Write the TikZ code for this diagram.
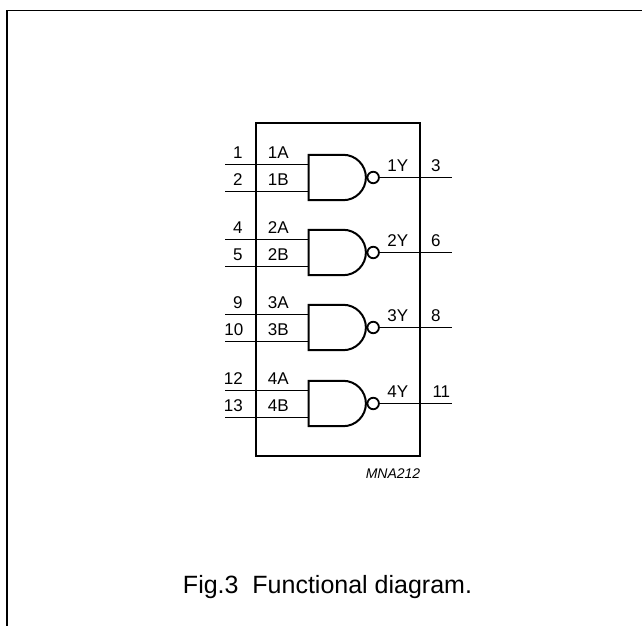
\documentclass[tikz,border=0pt]{standalone}
\usepackage{fontspec}
\setmainfont{Liberation Sans}
\tikzset{x=1pt, y=1pt,
  wire/.style={line width=1.1pt},
  pinlabel/.style={above=5.5pt, inner sep=0pt, text depth=0pt, font=\fontsize{17}{19}\selectfont},
  pics/nandgate/.style={code={
    \draw [line width=2pt, line join=miter] (0,22.7) -- (34.5,22.7) arc [start angle=90, end angle=-90, radius=22.7] -- (0,-22.7) -- cycle;
    \node (-bubble) at (64.5,0) [shape=circle, draw, line width=1.8pt, minimum size=11.5pt, inner sep=0pt] {};
    \coordinate (-a) at (0,13);
    \coordinate (-b) at (0,-14);
  }}
}

\begin{document}
\begin{tikzpicture}
\useasboundingbox (0,0) rectangle (642,626);

\coordinate (sheet right) at (642,615.5);
\coordinate (sheet corner) at (7,615.5);
\coordinate (sheet bottom) at (7,0);
\draw [line width=1.7pt] (sheet right) -- (sheet corner) -- (sheet bottom);

\node (IC) at (337.7,336.3) [shape=rectangle, draw, line width=2pt, minimum width=164pt, minimum height=332.5pt, inner sep=0pt] {};

\pic (g1) at (308.7,448.5) {nandgate};

\pic (g2) at (308.7,373.5) {nandgate};

\pic (g3) at (308.7,298.5) {nandgate};

\pic (g4) at (308.7,222.5) {nandgate};

% pins, left side
\coordinate (p1) at (225,461.5);
\coordinate (w1) at (255.7,461.5);
\coordinate (p2) at (225,434.5);
\coordinate (w2) at (255.7,434.5);

\coordinate (p4) at (225,386.5);
\coordinate (w4) at (255.7,386.5);
\coordinate (p5) at (225,359.5);
\coordinate (w5) at (255.7,359.5);

\coordinate (p9) at (225,311.5);
\coordinate (w9) at (255.7,311.5);
\coordinate (p10) at (225,284.5);
\coordinate (w10) at (255.7,284.5);

\coordinate (p12) at (225,235.5);
\coordinate (w12) at (255.7,235.5);
\coordinate (p13) at (225,208.5);
\coordinate (w13) at (255.7,208.5);

% pins, right side
\coordinate (p3) at (452,448.5);
\coordinate (w3) at (419.7,448.5);

\coordinate (p6) at (452,373.5);
\coordinate (w6) at (419.7,373.5);

\coordinate (p8) at (452,298.5);
\coordinate (w8) at (419.7,298.5);

\coordinate (p11) at (452,222.5);
\coordinate (w11) at (419.7,222.5);

\path [-, wire] (p1) edge node[pinlabel, xshift=-2.5pt] {1} (w1)
    (w1) edge node[pinlabel, xshift=-4pt] {1A} (g1-a)
    (p2) edge node[pinlabel, xshift=-2.5pt] {2} (w2)
    (w2) edge node[pinlabel, xshift=-4pt] {1B} (g1-b)
    (g1-bubble) edge node[pinlabel, xshift=-2pt] {1Y} (w3)
    (w3) edge node[pinlabel] {3} (p3)

  (p4) edge node[pinlabel, xshift=-2.5pt] {4} (w4)
    (w4) edge node[pinlabel, xshift=-4pt] {2A} (g2-a)
    (p5) edge node[pinlabel, xshift=-2.5pt] {5} (w5)
    (w5) edge node[pinlabel, xshift=-4pt] {2B} (g2-b)
    (g2-bubble) edge node[pinlabel, xshift=-2pt] {2Y} (w6)
    (w6) edge node[pinlabel] {6} (p6)

  (p9) edge node[pinlabel, xshift=-2.5pt] {9} (w9)
    (w9) edge node[pinlabel, xshift=-4pt] {3A} (g3-a)
    (p10) edge node[pinlabel, xshift=-6.5pt] {10} (w10)
    (w10) edge node[pinlabel, xshift=-4pt] {3B} (g3-b)
    (g3-bubble) edge node[pinlabel, xshift=-2pt] {3Y} (w8)
    (w8) edge node[pinlabel] {8} (p8)

  (p12) edge node[pinlabel, xshift=-7pt] {12} (w12)
    (w12) edge node[pinlabel, xshift=-4pt] {4A} (g4-a)
    (p13) edge node[pinlabel, xshift=-7pt] {13} (w13)
    (w13) edge node[pinlabel, xshift=-4pt] {4B} (g4-b)
    (g4-bubble) edge node[pinlabel, xshift=-2pt] {4Y} (w11)
    (w11) edge node[pinlabel, xshift=5.5pt] {11} (p11);

\node (code) at (393,152) [font=\fontsize{14}{16}\selectfont\itshape] {MNA212};

\node (caption) at (327.5,32.7) [anchor=base, font=\fontsize{25}{30}\selectfont] {Fig.3\ \ Functional diagram.};
\end{tikzpicture}
\end{document}
